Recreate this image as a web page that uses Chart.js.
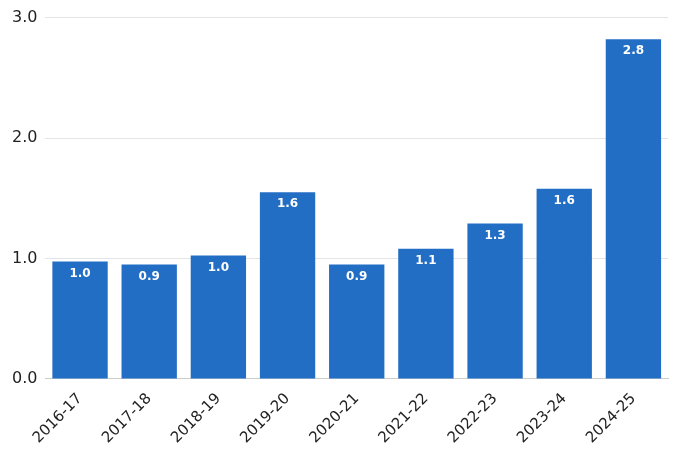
<!DOCTYPE html>
<html><head><meta charset="utf-8">
<script src="https://cdn.jsdelivr.net/npm/chart.js@4"></script>
<style>body{margin:0;background:#fff}#w{width:680px;height:454px}</style>
</head><body><div id="w"><canvas id="c"></canvas></div>
<script>
const categories=["2016-17","2017-18","2018-19","2019-20","2020-21","2021-22","2022-23","2023-24","2024-25"];
const values=[0.975,0.95,1.025,1.55,0.95,1.08,1.29,1.58,2.82];
const valueLabels=["1.0","0.9","1.0","1.6","0.9","1.1","1.3","1.6","2.8"];
const yTicks=[0,1,2,3];
const lbl={id:'lbl',afterDatasetsDraw(ch){const ctx=ch.ctx;const m=ch.getDatasetMeta(0);ctx.save();ctx.fillStyle='#fff';ctx.font='bold 12px "DejaVu Sans"';ctx.textAlign='center';ctx.textBaseline='top';m.data.forEach((b,i)=>ctx.fillText(valueLabels[i],b.x,b.y+6));ctx.restore();}};
new Chart(document.getElementById('c'),{type:'bar',data:{labels:categories,datasets:[{data:values,backgroundColor:'#236EC5',barPercentage:0.8,categoryPercentage:1}]},
options:{responsive:true,maintainAspectRatio:false,animation:false,layout:{padding:{top:10,right:12,left:4,bottom:4}},
plugins:{legend:{display:false},tooltip:{enabled:false}},
scales:{y:{min:0,max:3,afterBuildTicks(a){a.ticks=yTicks.map(v=>({value:v}));},ticks:{callback:v=>v.toFixed(1),color:'#222',font:{size:16,family:'DejaVu Sans'},padding:8},grid:{color:'#e4e4e4',drawTicks:false},border:{display:false}},
x:{ticks:{maxRotation:45,minRotation:45,color:'#222',font:{size:15,family:'DejaVu Sans'}},grid:{display:false},border:{color:'#ccc'}}}},plugins:[lbl]});
</script></body></html>
